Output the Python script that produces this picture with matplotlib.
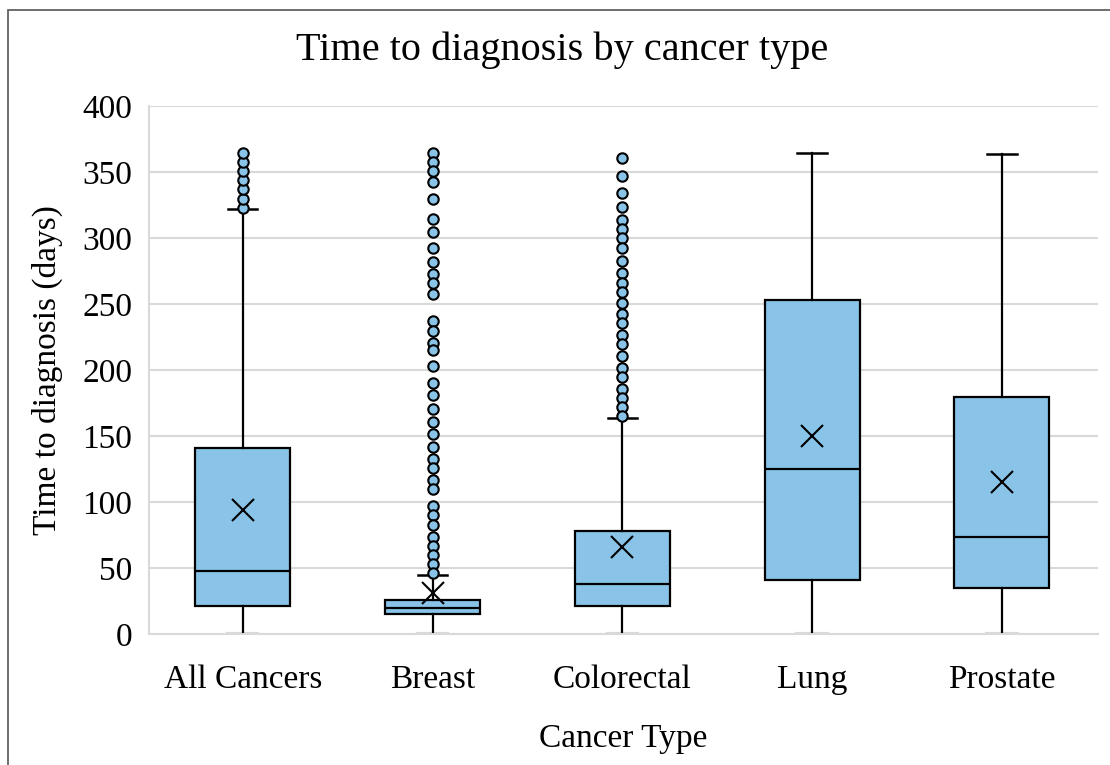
import matplotlib
matplotlib.use("Agg")
import matplotlib.pyplot as plt
from matplotlib.patches import Rectangle

plt.rcParams['font.family'] = ['Liberation Serif', 'DejaVu Serif']

categories = ['All Cancers', 'Breast', 'Colorectal', 'Lung', 'Prostate']
q1 = [21, 15, 21, 41, 35]
median = [48, 20, 38, 125, 74]
q3 = [141, 26, 78, 253, 180]
whisker_low = [0, 0, 0, 0, 0]
whisker_high = [322, 45, 164, 365, 364]
mean = [94, 31, 66, 150, 115]
outliers = [
    [323, 330, 337, 344, 351, 358, 365],
    [365, 358, 351, 343, 330, 315, 305, 293, 282, 273, 266, 258, 237, 230,
     221, 215, 203, 190, 181, 171, 161, 152, 142, 133, 126, 117, 110, 97,
     90, 83, 74, 67, 60, 53, 46],
    [361, 347, 334, 324, 314, 307, 300, 293, 283, 274, 266, 259, 251, 243,
     236, 227, 220, 211, 202, 195, 186, 179, 172, 165],
    [],
    [],
]

blue = '#89C4E8'
grid = '#D9D9D9'

stats = []
for i, name in enumerate(categories):
    stats.append({'label': name, 'q1': q1[i], 'med': median[i], 'q3': q3[i],
                  'whislo': whisker_low[i], 'whishi': whisker_high[i],
                  'mean': mean[i], 'fliers': outliers[i]})

fig = plt.figure(figsize=(11.1, 7.65), dpi=100)
ax = fig.add_axes([0.134, 0.171, 0.855, 0.690])

bp = ax.bxp(stats, positions=range(len(categories)), widths=0.5,
            patch_artist=True, showmeans=True, showfliers=True,
            boxprops=dict(facecolor=blue, edgecolor='black', linewidth=1.6),
            medianprops=dict(color='black', linewidth=1.6),
            whiskerprops=dict(color='black', linewidth=1.6),
            capprops=dict(color='black', linewidth=1.8),
            capwidths=0.155,
            meanprops=dict(marker='x', markeredgecolor='black', markersize=16,
                           markeredgewidth=1.5),
            flierprops=dict(marker='o', markerfacecolor=blue,
                            markeredgecolor='black', markersize=7.5,
                            markeredgewidth=1.5))
for c in bp['caps'][0::2]:
    c.set_color(grid)
    c.set_linewidth(3)
    c.set_zorder(1)

ax.set_xlim(-0.495, 4.505)
ax.set_ylim(0, 400)
ax.set_yticks(range(0, 401, 50))
ax.yaxis.grid(True, color=grid, linewidth=1.5)
ax.set_axisbelow(True)
for s in ['top', 'right']:
    ax.spines[s].set_visible(False)
for s in ['left', 'bottom']:
    ax.spines[s].set_color(grid)
    ax.spines[s].set_linewidth(1.5)
ax.tick_params(length=0, labelsize=24, pad=12)
ax.tick_params(axis='x', pad=22)

fig.text(562 / 1110, 1 - 50 / 765, 'Time to diagnosis by cancer type',
         fontsize=29, ha='center', va='center')
ax.set_ylabel('Time to diagnosis (days)', fontsize=24, labelpad=14)
ax.set_xlabel('Cancer Type', fontsize=24, labelpad=20)

fig.patches.append(Rectangle((8 / 1110, -0.1), 1.2, (765 - 10) / 765 + 0.1,
                             transform=fig.transFigure, fill=False,
                             edgecolor='#555555', linewidth=1.2))

fig.savefig('out.png', dpi=100)
